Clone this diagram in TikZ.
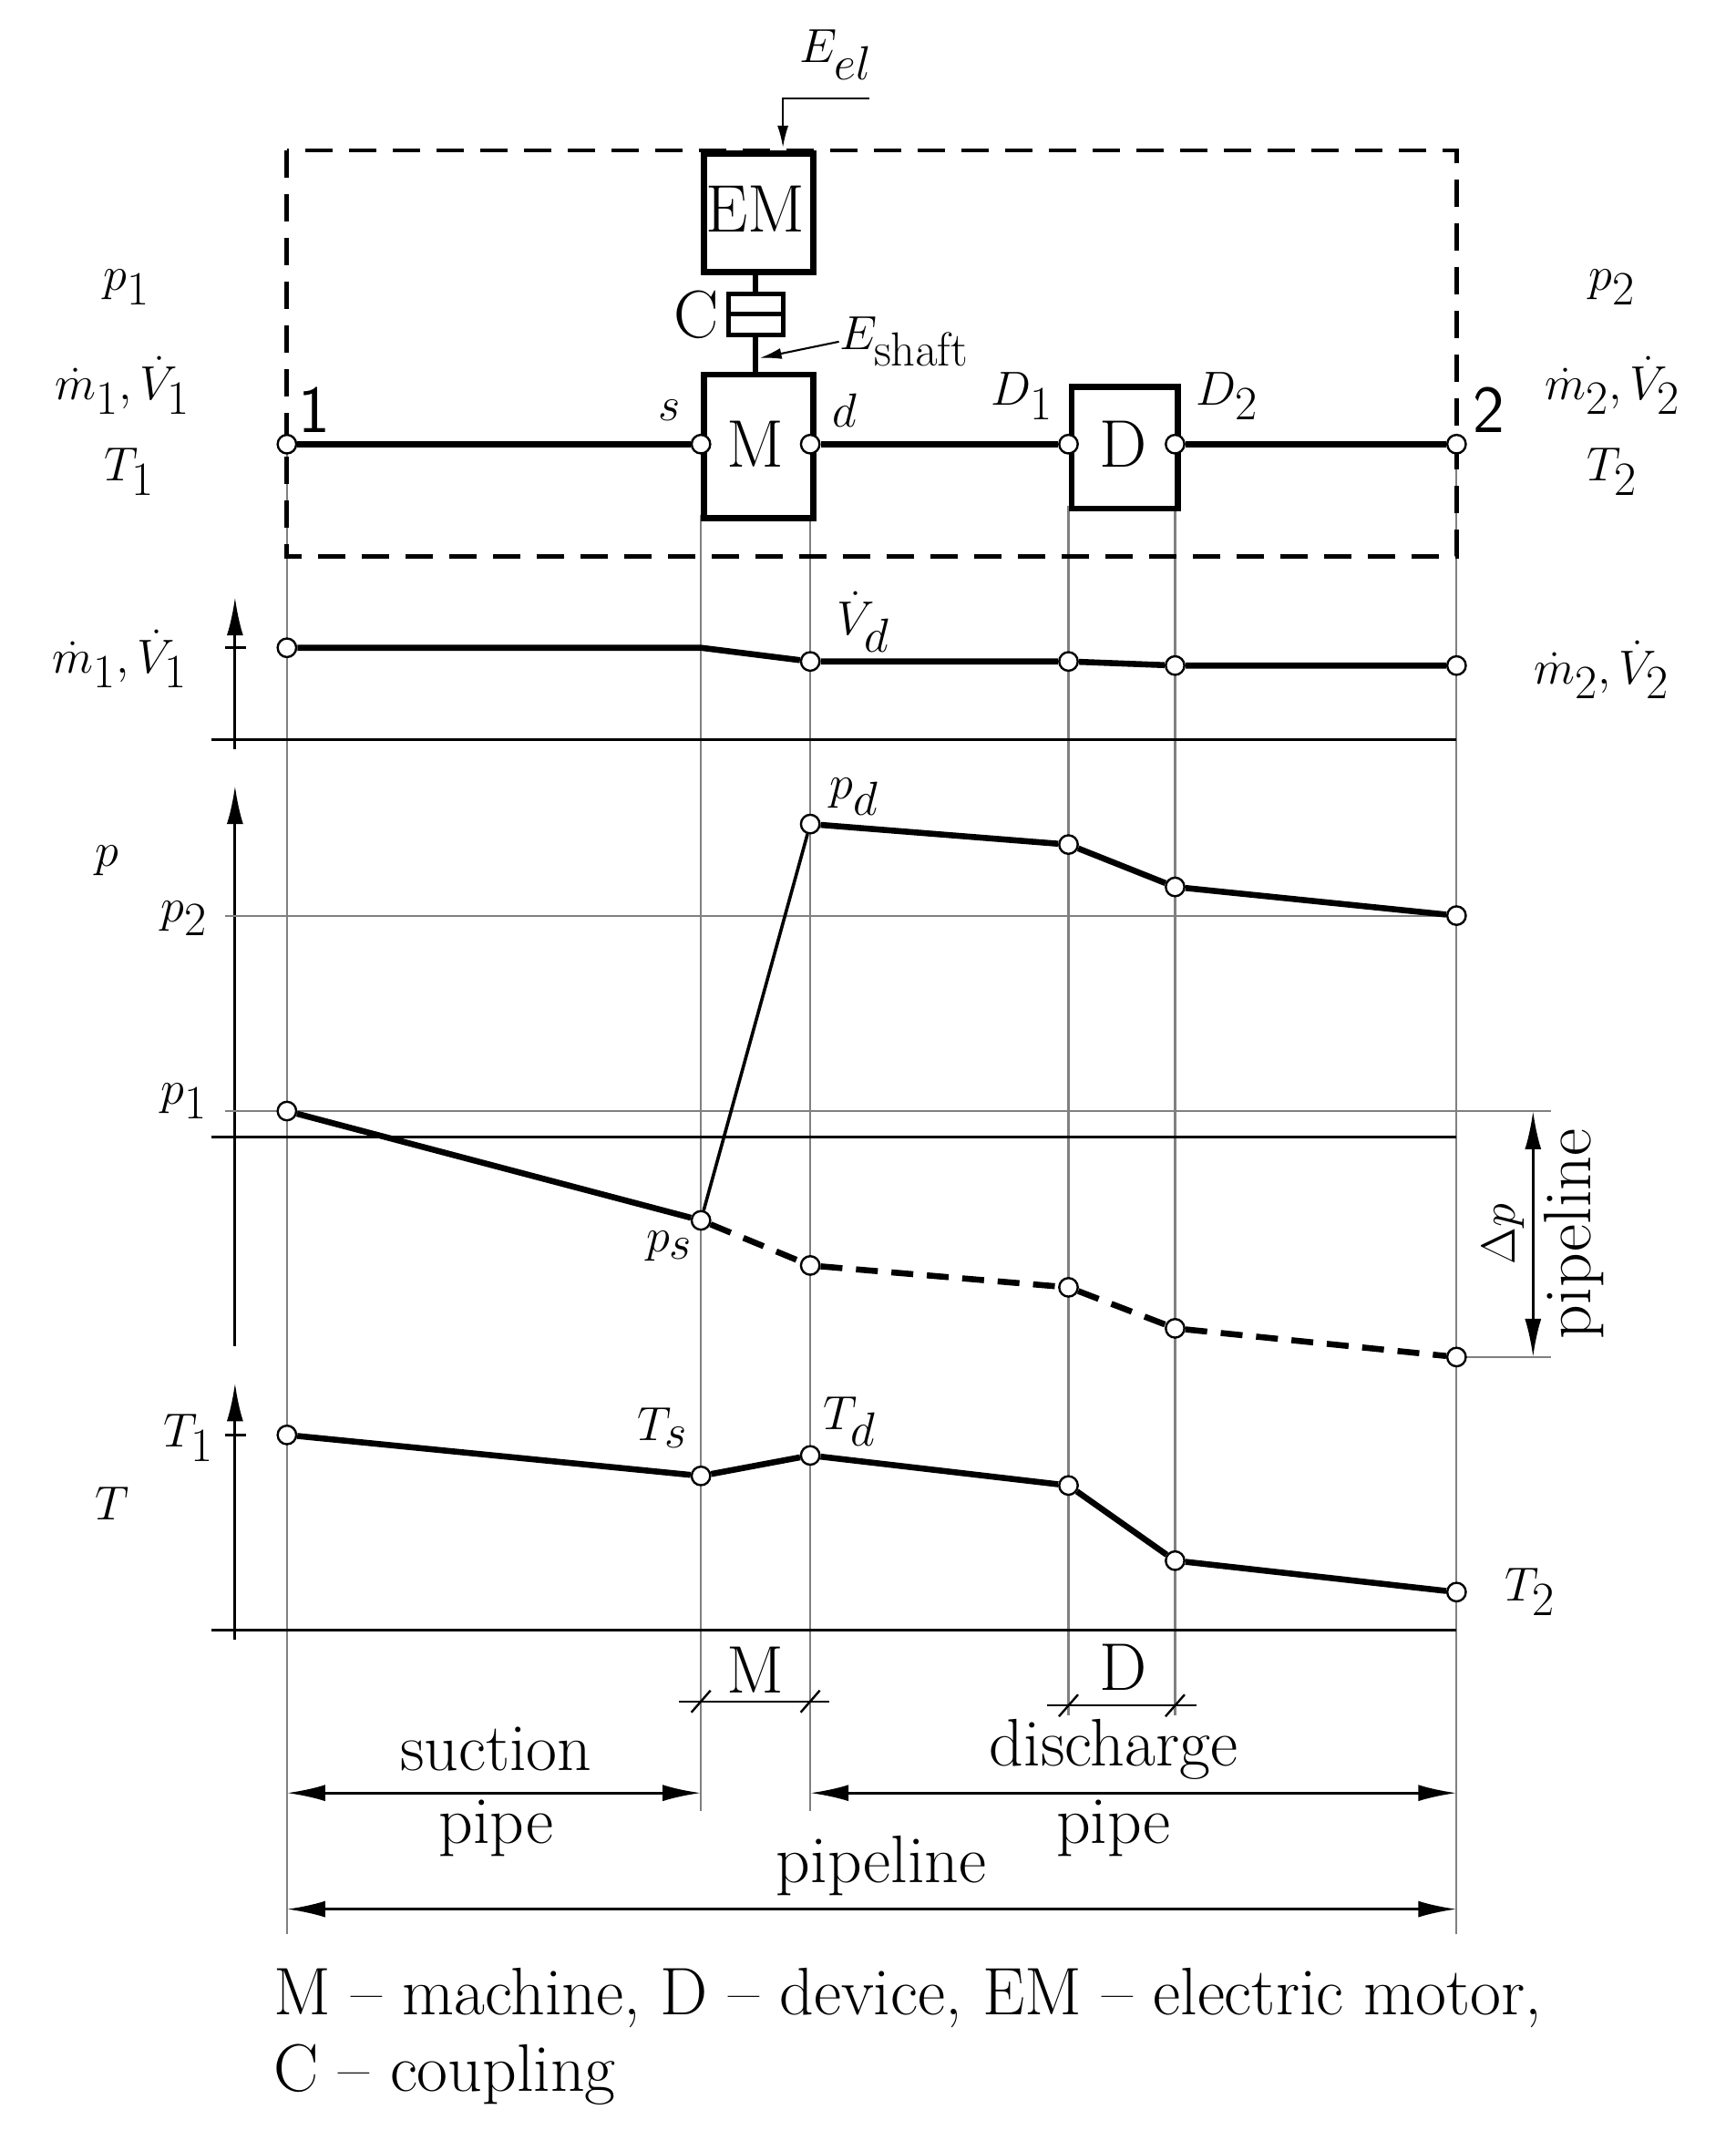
\documentclass[tikz,border=0pt]{standalone}
\usetikzlibrary{arrows.meta}
\begin{document}
\begin{tikzpicture}[x=0.025cm,y=-0.025cm,
  every node/.style={font=\fontsize{35}{40}\selectfont},
  pt/.style={circle,draw,fill=white,line width=0.4mm,inner sep=0pt,minimum size=3.4mm},
  thk/.style={line width=1.1mm},
  box/.style={draw,line width=1.1mm,inner sep=0pt},
  grid/.style={gray,line width=0.35mm},
  ax/.style={line width=0.5mm,-{Latex[length=7mm,width=3mm]}},
  dim/.style={line width=0.5mm,{Latex[length=7mm,width=3mm]}-{Latex[length=7mm,width=3mm]}},
  lbl/.style={inner sep=0pt}]
\useasboundingbox (0,0) rectangle (1270,1574);
% grid lines
\draw[grid] (210,325) -- (210,1415) (1066,325) -- (1066,1415);
\draw[grid] (513,377) -- (513,1325) (593,377) -- (593,1325);
\draw[grid] (782,370) -- (782,1255) (860,370) -- (860,1255);
% dashed system box
\draw[line width=0.8mm,dash pattern=on 5mm off 3mm] (210,110) rectangle (1066,407);
% components
\node[box,minimum width=20mm,minimum height=21.75mm,anchor=north west,fill=white] (EM) at (513,110) {};
\node at (553,153) {EM};
\node[box,minimum width=20mm,minimum height=26.25mm,anchor=north west,fill=white] (M) at (513,272) {};
\node at (553,325) {M};
\node[box,minimum width=19.5mm,minimum height=22.25mm,anchor=north west,fill=white] (D) at (782,281) {};
\node at (822,325) {D};
\draw[thk] (553,197) -- (553,215) (553,245) -- (553,272);
\draw[line width=0.8mm] (533,215) rectangle (573,245) (533,230) -- (573,230);
\node[anchor=east] (C) at (531,230) {C};
% main line
\node[pt] (n1) at (210,325) {};
\node[pt] (ns) at (513,325) {};
\node[pt] (nd) at (593,325) {};
\node[pt] (nD1) at (782,325) {};
\node[pt] (nD2) at (860,325) {};
\node[pt] (n2) at (1066,325) {};
\draw[thk] (n1) -- (ns) (nd) -- (nD1) (nD2) -- (n2);
\node[lbl] at (230,300) {\textsf{1}};
\node[lbl] at (1090,300) {\textsf{2}};
\node[lbl] at (490,300) {$s$};
\node[lbl] at (618,300) {$d$};
\node[lbl] at (748,290) {$D_1$};
\node[lbl] at (898,290) {$D_2$};
% energy
\node[lbl] (Eel) at (612,40) {$E_{el}$};
\coordinate (ee) at (636,72);
\draw[line width=0.35mm,-{Latex[length=4mm,width=2mm]}] (ee) -- (573,72) -- (573,108);
\node[lbl,anchor=west] (Es) at (614,250) {$E_{\mathrm{shaft}}$};
\draw[line width=0.35mm,-{Latex[length=4mm,width=2mm]}] (Es.west) -- (556,262);
% side labels
\node[lbl] at (93,210) {$p_1$};
\node[lbl] at (90,282) {$\dot m_1,\dot V_1$};
\node[lbl] at (95,345) {$T_1$};
\node[lbl] at (1180,210) {$p_2$};
\node[lbl] at (1180,282) {$\dot m_2,\dot V_2$};
\node[lbl] at (1180,345) {$T_2$};
% flow plot
\draw[ax] (172,548) -- (172,437);
\draw[line width=0.45mm] (155,541) -- (1066,541);
\draw[line width=0.45mm] (165,474) -- (180,474);
\node[pt] (f1) at (210,474) {};
\coordinate (fs) at (513,474);
\node[pt] (fd) at (593,484) {};
\node[pt] (fD1) at (782,484) {};
\node[pt] (fD2) at (860,487) {};
\node[pt] (f2) at (1066,487) {};
\draw[thk] (f1) -- (fs) -- (fd) -- (fD1) -- (fD2) -- (f2);
\node[lbl] at (88,482) {$\dot m_1,\dot V_1$};
\node[lbl] at (632,455) {$\dot V_d$};
\node[lbl] at (1172,490) {$\dot m_2,\dot V_2$};
% pressure plot
\draw[ax] (172,985) -- (172,575);
\draw[grid] (165,670) -- (1066,670);
\draw[grid] (165,813) -- (1135,813);
\draw[grid] (1066,993) -- (1135,993);
\draw[line width=0.45mm] (155,832) -- (1066,832);
\node[lbl] at (78,630) {$p$};
\node[lbl] at (135,672) {$p_2$};
\node[lbl] at (135,806) {$p_1$};
\node[pt] (p1) at (210,813) {};
\node[pt] (ps) at (513,893) {};
\node[pt] (pd) at (593,603) {};
\node[pt] (pD1) at (782,618) {};
\node[pt] (pD2) at (860,649) {};
\node[pt] (p2) at (1066,670) {};
\draw[thk] (p1) -- (ps);
\draw[line width=0.6mm] (ps) -- (pd);
\draw[thk] (pd) -- (pD1) -- (pD2) -- (p2);
\node[pt] (qd) at (593,926) {};
\node[pt] (qD1) at (782,942) {};
\node[pt] (qD2) at (860,972) {};
\node[pt] (q2) at (1066,993) {};
\draw[thk,dash pattern=on 4mm off 2.5mm] (ps) -- (qd) -- (qD1) -- (qD2) -- (q2);
\node[lbl] at (625,583) {$p_d$};
\node[lbl] at (490,912) {$p_s$};
\coordinate (dpa) at (1122,813);
\coordinate (dpb) at (1122,993);
\draw[dim] (dpa) -- (dpb);
\node[lbl,rotate=90] at (1100,903) {$\Delta p$};
\node[lbl,rotate=90] at (1152,903) {pipeline};
% temperature plot
\draw[ax] (172,1200) -- (172,1012);
\draw[line width=0.45mm] (155,1193) -- (1066,1193);
\draw[line width=0.45mm] (165,1050) -- (180,1050);
\node[lbl] at (82,1100) {$T$};
\node[lbl] at (138,1052) {$T_1$};
\node[pt] (t1) at (210,1050) {};
\node[pt] (ts) at (513,1080) {};
\node[pt] (td) at (593,1065) {};
\node[pt] (tD1) at (782,1087) {};
\node[pt] (tD2) at (860,1142) {};
\node[pt] (t2) at (1066,1165) {};
\draw[thk] (t1) -- (ts) -- (td) -- (tD1) -- (tD2) -- (t2);
\node[lbl] at (485,1045) {$T_s$};
\node[lbl] at (622,1040) {$T_d$};
\node[lbl] at (1120,1165) {$T_2$};
% dimensions
\draw[line width=0.4mm] (497,1245) -- (607,1245);
\draw[line width=0.4mm] (506,1253) -- (520,1237) (586,1253) -- (600,1237);
\node[lbl] at (553,1222) {M};
\draw[line width=0.4mm] (766,1248) -- (876,1248);
\draw[line width=0.4mm] (775,1256) -- (789,1240) (853,1256) -- (867,1240);
\node[lbl] at (822,1220) {D};
\coordinate (sa) at (210,1312); \coordinate (sb) at (513,1312);
\coordinate (da) at (593,1312); \coordinate (db) at (1066,1312);
\coordinate (la) at (210,1397); \coordinate (lb) at (1066,1397);
\draw[dim] (sa) -- (sb);
\draw[dim] (da) -- (db);
\draw[dim] (la) -- (lb);
\node[lbl] at (363,1280) {suction};
\node[lbl] at (363,1338) {pipe};
\node[lbl] at (815,1280) {discharge};
\node[lbl] at (815,1338) {pipe};
\node[lbl] at (645,1365) {pipeline};
\node[lbl,anchor=west] at (200,1462) {M -- machine, D -- device, EM -- electric motor,};
\node[lbl,anchor=west] at (200,1518) {C -- coupling};
\end{tikzpicture}
\end{document}
